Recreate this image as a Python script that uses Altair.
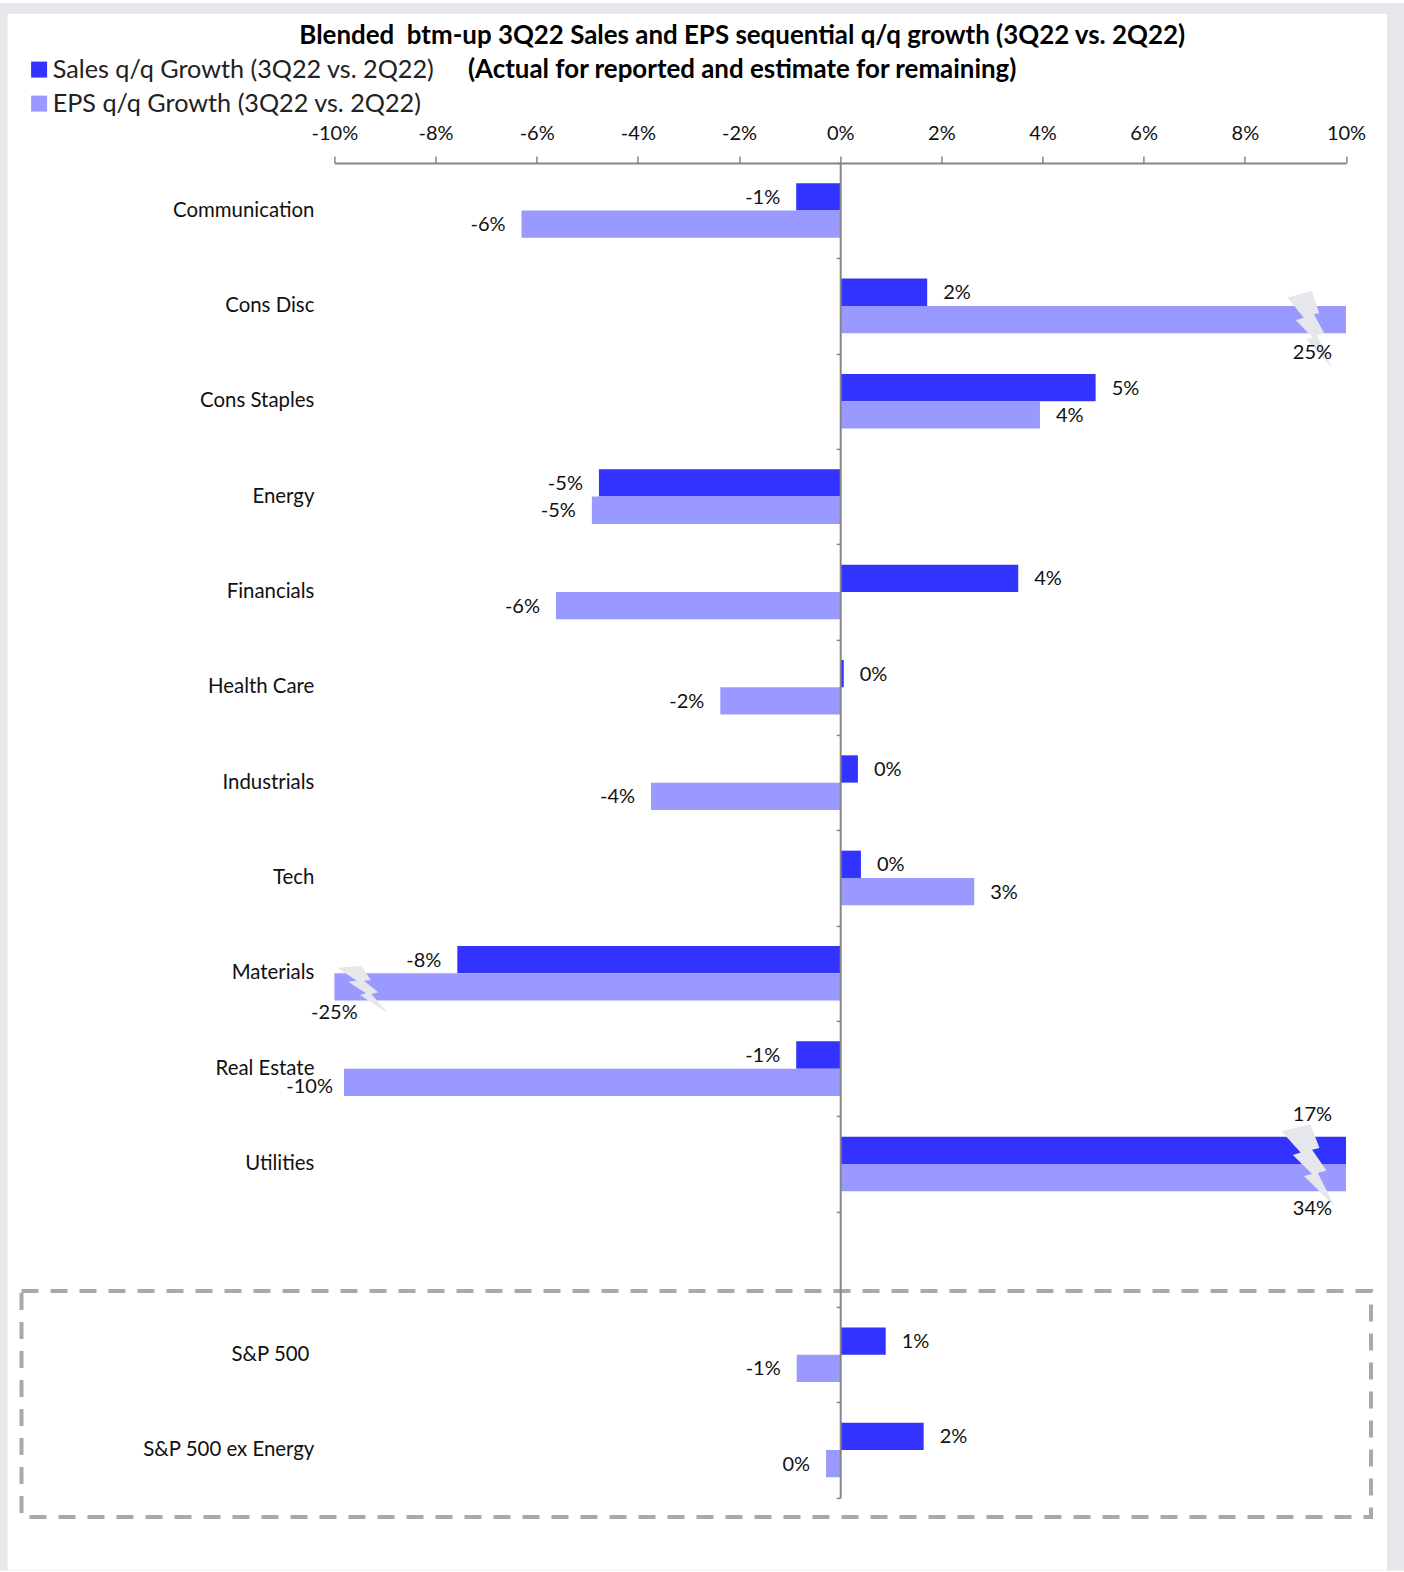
import altair as alt
import pandas as pd

categories = ["Communication", "Cons Disc", "Cons Staples", "Energy", "Financials",
              "Health Care", "Industrials", "Tech", "Materials", "Real Estate",
              "Utilities", "", "S&P 500", "S&P 500 ex Energy"]
sectors = [c for c in categories if c]
sales_growth = [-0.0087, 0.0172, 0.0505, -0.0477, 0.0352, 0.0007, 0.0035, 0.0041,
                -0.0757, -0.0087, 0.17, 0.009, 0.0165]
eps_growth = [-0.063, 0.25, 0.0395, -0.0491, -0.0562, -0.0237, -0.0374, 0.0265,
              -0.25, -0.0981, 0.34, -0.0086, -0.0028]
SALES = "Sales q/q Growth (3Q22 vs. 2Q22)"
EPS = "EPS q/q Growth (3Q22 vs. 2Q22)"
title_lines = ["Blended\u00a0 btm-up 3Q22 Sales and EPS sequential q/q growth (3Q22 vs. 2Q22)",
               "(Actual for reported and estimate for remaining)"]

FONT = "Lato"
BLUE, LILAC = "#3333ff", "#9999ff"
AXIS_GREY, PANEL_GREY, BOX_GREY = "#868686", "#e6e7eb", "#a9a9a9"
W, H = 1011.6, 1334.8
LEFT, TOP = 334.4, 162.9
# Percent text with a plain hyphen for negatives
PCT = "replace(format(%s, '.0%%'), '\u2212', '-')"

rows = pd.DataFrame(
    [{"category": c, "series": SALES, "value": v} for c, v in zip(sectors, sales_growth)]
    + [{"category": c, "series": EPS, "value": v} for c, v in zip(sectors, eps_growth)]
)

x_scale = alt.Scale(domain=[-0.1, 0.1], nice=False, zero=False)
x_axis = alt.Axis(orient="top", labelExpr=PCT % "datum.value",
                  values=[i / 100 for i in range(-10, 11, 2)],
                  grid=False, title=None, domainColor=AXIS_GREY, domainWidth=2,
                  tickColor=AXIS_GREY, tickWidth=1.5, tickSize=7, labelPadding=12,
                  labelFont=FONT, labelFontSize=20, labelColor="#111111", labelFlush=False,
                  labelOverlap=False, zindex=1)
y_axis = alt.Axis(orient="left", offset=-W / 2, labels=False, title=None,
                  domainColor=AXIS_GREY, domainWidth=2, tickColor=AXIS_GREY,
                  tickWidth=1.5, tickSize=4, tickBand="extent", grid=False, zindex=1)
y_enc = alt.Y("category:N", sort=categories, title=None, axis=y_axis,
              scale=alt.Scale(domain=categories, paddingInner=0, paddingOuter=0))
offset_enc = alt.YOffset("series:N", sort=[SALES, EPS],
                         scale=alt.Scale(domain=[SALES, EPS], paddingInner=0, paddingOuter=0.746))

base = alt.Chart(rows)
one_row = alt.Data(values=[{"k": 1}])

# Page frame: grey surround with a white sheet on top of it
frame = alt.Chart(one_row).mark_rect(fill=PANEL_GREY).encode(
    x=alt.value(-LEFT), x2=alt.value(1404 - LEFT), y=alt.value(3 - TOP), y2=alt.value(1570.5 - TOP))
sheet = alt.Chart(one_row).mark_rect(fill="white").encode(
    x=alt.value(7.5 - LEFT), x2=alt.value(1387 - LEFT), y=alt.value(14 - TOP), y2=alt.value(1570 - TOP))

bars = base.mark_bar(clip=True).encode(
    x=alt.X("value:Q", scale=x_scale, axis=x_axis, title=None),
    x2=alt.datum(0),
    y=y_enc,
    yOffset=offset_enc,
    color=alt.Color("series:N", sort=[SALES, EPS],
                    scale=alt.Scale(domain=[SALES, EPS], range=[BLUE, LILAC]),
                    legend=alt.Legend(orient="none", legendX=26.5 - LEFT, legendY=57 - TOP,
                                      title=None, symbolType="square", symbolSize=256,
                                      symbolStrokeWidth=0, labelFont=FONT, labelFontSize=25.2,
                                      labelColor="#222222", labelOffset=1, rowPadding=8,
                                      labelLimit=500, symbolOpacity=1)),
)


def bolt(points):
    return "M" + "L".join(f"{x},{y}" for x, y in points) + "Z"


bolt_upright = bolt([(-.59, -.83), (.05, -1), (.24, -.42), (.10, -.39), (.37, .10), (.19, .16),
                     (.57, 1), (-.10, .25), (.07, .22), (-.37, -.24), (-.16, -.30)])
bolt_broad = bolt([(-.65, -.83), (.06, -1), (.28, -.42), (.10, -.38), (.45, .13), (.24, .19),
                   (.65, 1), (-.10, .26), (.10, .21), (-.37, -.25), (-.18, -.31)])
bolt_wide = bolt([(-1, -.88), (-.04, -.95), (.32, -.39), (.05, -.37), (.61, .09), (.34, .16),
                  (1, .92), (-.11, .2), (.13, .13), (-.57, -.33), (-.24, -.37)])

clamped = "clamp(datum.value, -0.1, 0.1)"


def break_mark(category, series, path, size, dx, dy):
    # Lightning bolt marking a bar that runs past the axis range
    return base.transform_filter(
        f"datum.category === '{category}' && datum.series === '{series}'"
    ).transform_calculate(anchor=clamped).mark_point(
        shape=path, filled=True, size=size, color=PANEL_GREY, opacity=1, xOffset=dx, yOffset=dy
    ).encode(x=alt.X("anchor:Q", scale=x_scale, axis=x_axis, title=None), y=y_enc)


bolts = [
    break_mark("Cons Disc", EPS, bolt_upright, 5900, -36, 23.4),
    break_mark("Materials", EPS, bolt_wide, 2570, 28.3, 16.7),
    break_mark("Utilities", EPS, bolt_broad, 6700, -38, 1.3),
]


def value_labels(condition, align, dx):
    return base.transform_filter(condition).transform_calculate(
        label=PCT % "datum.value"
    ).mark_text(
        font=FONT, fontSize=20, color="#111111", align=align, dx=dx, dy=1, baseline="middle"
    ).encode(x=alt.X("value:Q", scale=x_scale, axis=x_axis, title=None), y=y_enc,
             yOffset=offset_enc, text="label:N")


in_range = "abs(datum.value) < 0.098"
positive = value_labels(f"{in_range} && datum.value >= 0", "left", 16)
negative = value_labels(f"{in_range} && datum.value < 0", "right", -16)


def placed_label(category, series, align, dx, dy):
    # Labels set apart from their bar: clipped bars and the tight Real Estate bar
    return base.transform_filter(
        f"datum.category === '{category}' && datum.series === '{series}'"
    ).transform_calculate(anchor=clamped, label=PCT % "datum.value").mark_text(
        font=FONT, fontSize=20, color="#111111", align=align, dx=dx, dy=dy, baseline="middle"
    ).encode(x=alt.X("anchor:Q", scale=x_scale, axis=x_axis, title=None), y=y_enc,
             yOffset=offset_enc, text="label:N")


placed = [
    placed_label("Cons Disc", EPS, "center", -33.6, 33.9),
    placed_label("Materials", EPS, "center", 0, 26),
    placed_label("Real Estate", EPS, "right", -11, 5),
    placed_label("Utilities", SALES, "center", -33.6, -35),
    placed_label("Utilities", EPS, "center", -33.6, 31),
]

# Category names sit in a column left of the plot, not at the zero-line axis
names = pd.DataFrame({"category": sectors, "edge": [-0.1] * len(sectors)})
names_main = alt.Chart(names).transform_filter("datum.category !== 'S&P 500'").mark_text(
    font=FONT, fontSize=20.4, color="#111111", align="right", dx=-20, dy=0, baseline="middle"
).encode(x=alt.X("edge:Q", scale=x_scale, axis=x_axis, title=None), y=y_enc, text="category:N")
names_sp = alt.Chart(names).transform_filter("datum.category === 'S&P 500'").mark_text(
    font=FONT, fontSize=20.4, color="#111111", align="right", dx=-25, dy=0, baseline="middle"
).encode(x=alt.X("edge:Q", scale=x_scale, axis=x_axis, title=None), y=y_enc, text="category:N")

# Dashed outline around the index-level rows
outline = alt.Chart(one_row).mark_rect(
    fill=None, stroke=BOX_GREY, strokeWidth=4, strokeDash=[17, 12]
).encode(x=alt.value(21.5 - LEFT), x2=alt.value(1371 - LEFT),
         y=alt.value(1291 - TOP), y2=alt.value(1517 - TOP))

chart = alt.layer(
    frame, sheet, bars, *bolts, positive, negative, *placed, names_main, names_sp, outline
).resolve_scale(x="shared", y="shared").properties(
    width=W, height=H,
    padding={"left": LEFT, "top": TOP, "right": 1404 - LEFT - W, "bottom": 1572 - TOP - H},
    autosize=alt.AutoSizeParams(type="none"),
    background="white",
    title=alt.TitleParams(text=title_lines, font=FONT, fontSize=25.9, fontWeight="bold",
                          color="#000000", anchor="middle", dx=-98, dy=84, offset=3, lineHeight=34),
).configure_view(stroke=None)

chart.save("out.html", embed_options={"renderer": "svg", "actions": False})
